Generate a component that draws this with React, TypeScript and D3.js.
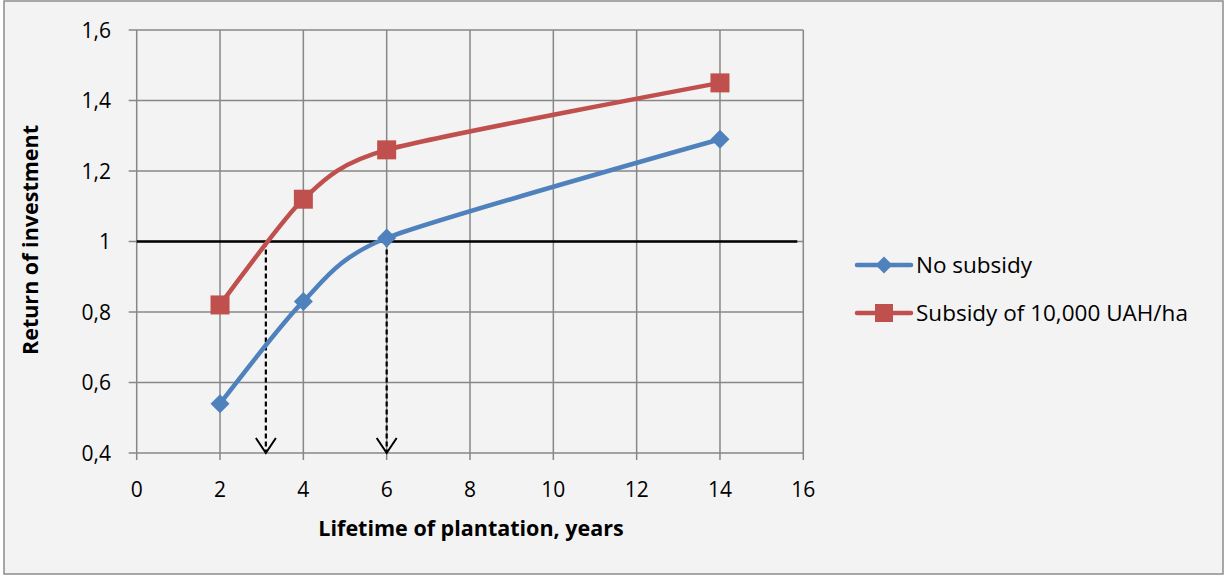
import React from 'react';
import * as d3 from 'd3';

const years = [2, 4, 6, 14];
const noSubsidy = [0.54, 0.83, 1.01, 1.29];
const withSubsidy = [0.82, 1.12, 1.26, 1.45];
const seriesNames = ['No subsidy', 'Subsidy of 10,000 UAH/ha'];
const xTicks = [0, 2, 4, 6, 8, 10, 12, 14, 16];
const yTicks = [0.4, 0.6, 0.8, 1, 1.2, 1.4, 1.6];
const breakEven = 1;
const breakEvenYears = [3.1, 6];

const W = 1225;
const H = 576;
const FONT = 'Open Sans, Noto Sans, sans-serif';

export default function App() {
  const x = d3.scaleLinear().domain([0, 16]).range([136.7, 803.3]);
  const y = d3.scaleLinear().domain([0.4, 1.6]).range([453, 30]);

  const line = d3.line<[number, number]>()
    .x(d => x(d[0]))
    .y(d => y(d[1]))
    .curve(d3.curveCardinal.tension(0.3));

  const blue = '#4f81bd';
  const red = '#c0504d';
  const grid = '#878787';
  const fmt = (v: number) => String(v).replace('.', ',');

  const s1 = years.map((v, i) => [v, noSubsidy[i]] as [number, number]);
  const s2 = years.map((v, i) => [v, withSubsidy[i]] as [number, number]);

  const diamond = (cx: number, cy: number, r: number) =>
    `M${cx},${cy - r}L${cx + r},${cy}L${cx},${cy + r}L${cx - r},${cy}Z`;

  return (
    <svg width={W} height={H} style={{ position: 'absolute', left: 0, top: 0 }}>
      <rect x={0} y={0} width={W} height={H} fill="#ffffff" />
      <rect x={4} y={1} width={W - 6} height={H - 3} fill="#f3f3f3" stroke="#8c8c8c" strokeWidth={1.5} />

      {/* gridlines */}
      {yTicks.map(t => (
        <line key={'gy' + t} x1={x(0) - 8} x2={x(16)} y1={y(t)} y2={y(t)} stroke={grid} strokeWidth={1.5} />
      ))}
      {xTicks.map(t => (
        <line key={'gx' + t} x1={x(t)} x2={x(t)} y1={y(1.6)} y2={y(0.4) + 7} stroke={grid} strokeWidth={1.5} />
      ))}

      {/* tick labels */}
      {yTicks.map(t => (
        <text key={'ty' + t} x={111} y={y(t)} dy="0.36em" textAnchor="end" fontFamily={FONT} fontSize={21} fill="#000">
          {fmt(t)}
        </text>
      ))}
      {xTicks.map(t => (
        <text key={'tx' + t} x={x(t)} y={497} textAnchor="middle" fontFamily={FONT} fontSize={21} fill="#000">
          {t}
        </text>
      ))}

      {/* break-even line */}
      <line x1={x(0)} x2={x(16) - 6} y1={y(breakEven)} y2={y(breakEven)} stroke="#000" strokeWidth={2.5} />

      {/* dashed arrows */}
      {breakEvenYears.map(t => (
        <g key={'ar' + t}>
          <line x1={x(t)} x2={x(t)} y1={y(breakEven)} y2={y(0.4)} stroke="#000" strokeWidth={2.2} strokeDasharray="5,3" />
          <path d={`M${x(t) - 10},${y(0.4) - 15}L${x(t)},${y(0.4)}L${x(t) + 10},${y(0.4) - 15}`} fill="none" stroke="#000" strokeWidth={2} />
        </g>
      ))}

      {/* series */}
      <path d={line(s1) || ''} fill="none" stroke={blue} strokeWidth={4.5} />
      <path d={line(s2) || ''} fill="none" stroke={red} strokeWidth={4.5} />
      {s1.map((d, i) => (
        <path key={'m1' + i} d={diamond(x(d[0]), y(d[1]), 9.5)} fill={blue} />
      ))}
      {s2.map((d, i) => (
        <rect key={'m2' + i} x={x(d[0]) - 9.5} y={y(d[1]) - 9.5} width={19} height={19} fill={red} />
      ))}

      {/* axis titles */}
      <text x={471} y={536} textAnchor="middle" fontFamily={FONT} fontWeight="bold" fontSize={21.5} fill="#000">
        Lifetime of plantation, years
      </text>
      <text transform={`translate(38,240) rotate(-90)`} textAnchor="middle" fontFamily={FONT} fontWeight="bold" fontSize={21.5} fill="#000">
        Return of investment
      </text>

      {/* legend */}
      {seriesNames.map((name, i) => {
        const ly = 265 + i * 48;
        return (
          <g key={'lg' + i}>
            <line x1={857} x2={911} y1={ly} y2={ly} stroke={i === 0 ? blue : red} strokeWidth={4.5} strokeLinecap="round" />
            {i === 0 ? (
              <path d={diamond(884, ly, 8.5)} fill={blue} />
            ) : (
              <rect x={875} y={ly - 9} width={18} height={18} fill={red} />
            )}
            <text x={916} y={ly} dy="0.36em" fontFamily={FONT} fontSize={22.5} fill="#000">
              {name}
            </text>
          </g>
        );
      })}
    </svg>
  );
}
